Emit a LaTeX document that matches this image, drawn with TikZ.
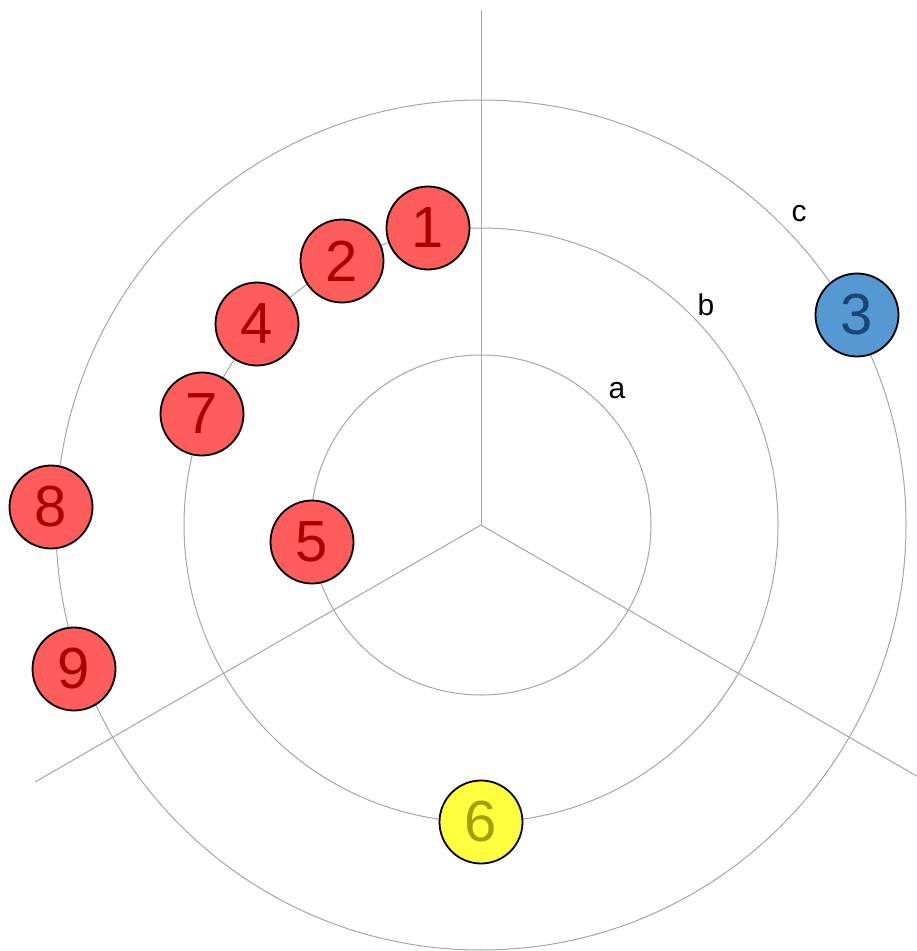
\documentclass[tikz,border=0pt]{standalone}
\usepackage{fontspec}
\setmainfont{Liberation Sans}
\usetikzlibrary{calc}
\definecolor{gridgray}{RGB}{165,165,165}
\definecolor{redfill}{RGB}{255,92,92}
\definecolor{redtext}{RGB}{170,0,0}
\definecolor{bluefill}{RGB}{86,152,210}
\definecolor{bluetext}{RGB}{25,70,120}
\definecolor{yellowfill}{RGB}{255,255,64}
\definecolor{yellowtext}{RGB}{160,160,0}
\begin{document}
\begin{tikzpicture}[x=1pt,y=-1pt,
  grid/.style={draw=gridgray,line width=1pt},
  nd/.style={circle,draw=black,line width=1.8pt,minimum size=83pt,inner sep=0pt,
    font=\fontsize{58}{58}\selectfont},
  rednd/.style={nd,fill=redfill,text=redtext},
  bluend/.style={nd,fill=bluefill,text=bluetext},
  yellownd/.style={nd,fill=yellowfill,text=yellowtext},
  lab/.style={font=\fontsize{30}{30}\selectfont,text=black}]
\useasboundingbox (0,0) rectangle (917,951);
\coordinate (o) at (481,525);
\coordinate (top) at (481,10);
\coordinate (ll) at ($(o)+(-446,257)$);
\coordinate (lr) at ($(o)+(446,257)$);
\draw[grid] (o) circle[radius=170pt];
\draw[grid] (o) circle[radius=297pt];
\draw[grid] (o) circle[radius=425pt];
\draw[grid] (o) -- (top);
\draw[grid] (o) -- (ll);
\draw[grid] (o) -- (lr);
\node[lab] (la) at (617,391) {a};
\node[lab] (lb) at (706,305) {b};
\node[lab] (lc) at (799,214) {c};
\node[rednd] (n1) at (428,228) {1};
\node[rednd] (n2) at (342,261) {2};
\node[rednd] (n4) at (257,324) {4};
\node[rednd] (n7) at (202,414) {7};
\node[rednd] (n8) at (51,507) {8};
\node[rednd] (n5) at (312,542) {5};
\node[rednd] (n9) at (74,669) {9};
\node[bluend] (n3) at (857,315) {3};
\node[yellownd] (n6) at (481,822) {6};
\end{tikzpicture}
\end{document}
